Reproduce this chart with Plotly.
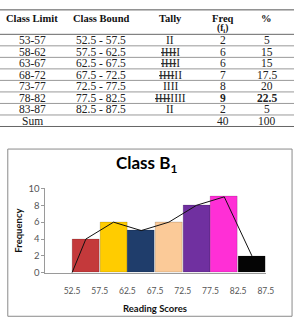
import plotly.graph_objects as go

W, H = 302, 329

# ---- table data ----
headers = ["Class Limit", "Class Bound", "Tally", "Freq", "%"]
header_sub = ["", "", "", "(f<sub>i</sub>)", ""]
class_limits = ["53-57", "58-62", "63-67", "68-72", "73-77", "78-82", "83-87", "Sum"]
class_bounds = ["52.5 - 57.5", "57.5 - 62.5", "62.5 - 67.5", "67.5 - 72.5",
                "72.5 - 77.5", "77.5 - 82.5", "82.5 - 87.5", ""]
tallies = ["II", "<s>IIII</s>I", "<s>IIII</s>I", "<s>IIII</s>II", "IIII",
           "<s>IIII</s>IIII", "II", ""]
freq = ["2", "6", "6", "7", "8", "9", "2", "40"]
pct = ["5", "15", "15", "17.5", "20", "22.5", "5", "100"]
bold_row = 5

# ---- chart data ----
bound_lo = [52.5, 57.5, 62.5, 67.5, 72.5, 77.5, 82.5]
bound_hi = [57.5, 62.5, 67.5, 72.5, 77.5, 82.5, 87.5]
chart_freq = [4, 6, 5, 6, 8, 9, 2]
bar_colors = ["#C4393B", "#FFCC00", "#1F3D6B", "#FBCA98", "#7030A0", "#FF2FD6", "#050505"]
poly_x = [52.5, 55, 60, 65, 70, 75, 80, 85]
poly_y = [0, 4, 6, 5, 6, 8, 9, 2]
tick_vals = [52.5, 57.5, 62.5, 67.5, 72.5, 77.5, 82.5, 87.5]
tick_text = ["52.5", "57.5", "62.5", "67.5", "72.5", "77.5", "82.5", "87.5"]


def px(x):
    return x / W


def py(y):
    return (H - y) / H


fig = go.Figure()
mids = [(a + b) / 2 for a, b in zip(bound_lo, bound_hi)]
widths = [(b - a) * 0.975 for a, b in zip(bound_lo, bound_hi)]
fig.add_trace(go.Bar(x=mids, y=chart_freq, width=widths,
                     marker=dict(color=bar_colors, line=dict(color="rgba(0,0,0,0.25)", width=0.6)),
                     showlegend=False, hoverinfo="skip"))
fig.add_trace(go.Scatter(x=poly_x, y=poly_y, mode="lines",
                         line=dict(color="#111111", width=1), showlegend=False))

shapes = []
annotations = []
serif = "Liberation Serif, Times New Roman, serif"
col_x = [33, 104, 175, 229, 274]

# table lines
shapes.append(dict(type="line", xref="paper", yref="paper", x0=0, x1=1,
                   y0=py(4), y1=py(4), line=dict(color="#555", width=1)))
row_top = 29.3
row_h = 11.92
for i in range(len(class_limits) + 1):
    yy = row_top + i * row_h
    shapes.append(dict(type="line", xref="paper", yref="paper", x0=0, x1=1,
                       y0=py(yy), y1=py(yy),
                       line=dict(color="#666" if i in (0, len(class_limits)) else "#999", width=1)))

for j, h in enumerate(headers):
    annotations.append(dict(text="<b>" + h + "</b>", x=px(col_x[j]), y=py(12.5),
                            xref="paper", yref="paper", xanchor="center", yanchor="middle",
                            showarrow=False, font=dict(family=serif, size=10.5, color="#111")))
    if header_sub[j]:
        annotations.append(dict(text="<b>" + header_sub[j] + "</b>", x=px(col_x[j]), y=py(23.5),
                                xref="paper", yref="paper", xanchor="center", yanchor="middle",
                                showarrow=False, font=dict(family=serif, size=9.5, color="#111")))

for i in range(len(class_limits)):
    yc = row_top + (i + 0.5) * row_h
    cells = [class_limits[i], class_bounds[i], tallies[i], freq[i], pct[i]]
    for j, c in enumerate(cells):
        if not c:
            continue
        if i == bold_row and j >= 3:
            c = "<b>" + c + "</b>"
        annotations.append(dict(text=c, x=px(col_x[j]), y=py(yc),
                                xref="paper", yref="paper", xanchor="center", yanchor="middle",
                                showarrow=False, font=dict(family=serif, size=11.5, color="#222")))

# chart box
shapes.append(dict(type="rect", xref="paper", yref="paper",
                   x0=px(8), x1=px(300), y0=py(321), y1=py(148),
                   line=dict(color="#8a8a8a", width=1), layer="below"))

sans = "Lato, Carlito, Calibri, sans-serif"
annotations.append(dict(text="<b>Class B<sub>1</sub></b>", x=px(150), y=py(163),
                        xref="paper", yref="paper", xanchor="center", yanchor="middle",
                        showarrow=False, font=dict(family=sans, size=17, color="#000")))
annotations.append(dict(text="<b>Frequency</b>", x=px(19), y=py(232), textangle=-90,
                        xref="paper", yref="paper", xanchor="center", yanchor="middle",
                        showarrow=False, font=dict(family=sans, size=9.5, color="#111")))
annotations.append(dict(text="<b>Reading Scores</b>", x=px(159), y=py(313),
                        xref="paper", yref="paper", xanchor="center", yanchor="middle",
                        showarrow=False, font=dict(family=sans, size=9.5, color="#111")))

fig.update_layout(
    width=W, height=H, margin=dict(l=0, r=0, t=0, b=0),
    paper_bgcolor="white", plot_bgcolor="white",
    bargap=0, shapes=shapes, annotations=annotations,
    xaxis=dict(domain=[px(46.7), px(273)], range=[47.7, 87.5],
               tickvals=tick_vals, ticktext=tick_text, showgrid=False, zeroline=False,
               showline=True, linecolor="#9a9a9a", linewidth=1, ticks="",
               tickfont=dict(family=sans, size=8.5, color="#555"), ticklabelstandoff=10),
    yaxis=dict(domain=[py(276), py(188.7)], range=[0, 10], dtick=2,
               showgrid=False, zeroline=False, showline=True, linecolor="#9a9a9a", linewidth=1,
               ticks="outside", ticklen=3, tickcolor="#9a9a9a",
               tickfont=dict(family=sans, size=9.5, color="#555")),
)

fig.write_html("out.html")
